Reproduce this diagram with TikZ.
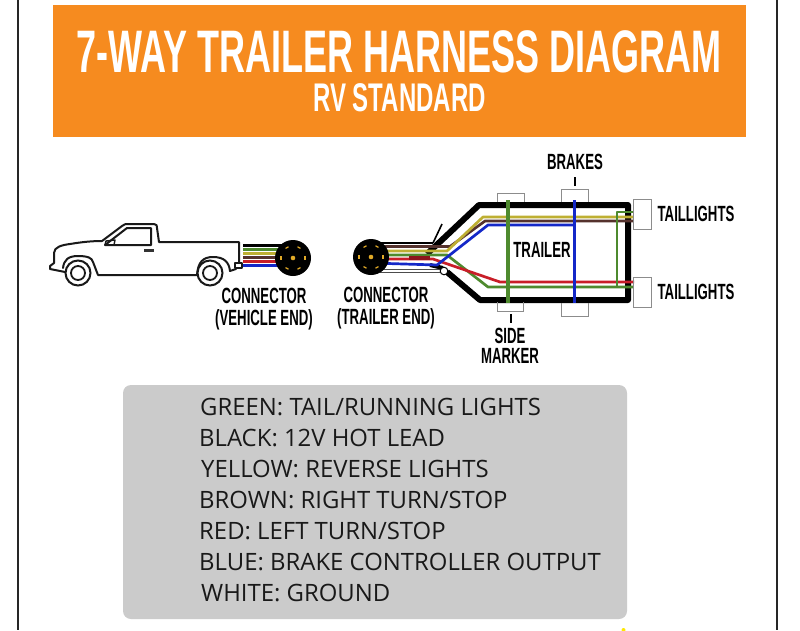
\documentclass[tikz,border=0pt]{standalone}
\usepackage{fontspec}
\usepackage{xcolor}
\usepackage{tikz}
\usetikzlibrary{positioning,backgrounds}
\setmainfont{Open Sans}
\newfontfamily\condfont[FakeStretch=0.6]{Liberation Sans}
\definecolor{banner}{RGB}{246, 139, 31}
\definecolor{panel}{RGB}{203, 203, 203}
\definecolor{wgreen}{RGB}{78, 138, 46}
\definecolor{wyellow}{RGB}{190, 175, 50}
\definecolor{wbrown}{RGB}{85, 50, 45}
\definecolor{wred}{RGB}{200, 30, 40}
\definecolor{wblue}{RGB}{20, 40, 200}
\definecolor{pingold}{RGB}{225, 170, 40}
\tikzstyle{textonly} = [draw=none, fill=none, inner sep=0pt, text centered, font=\condfont\bfseries\fontsize{22}{22}\selectfont]
\tikzstyle{legendline} = [draw=none, fill=none, inner sep=0pt, anchor=base west, text=black!90, font=\fontsize{23.9}{24}\selectfont]
\tikzstyle{plug} = [circle, fill=black, draw=none, inner sep=0pt, minimum size=36pt]
\tikzstyle{pin} = [draw=pingold, line width=1.2pt]
\tikzstyle{wire} = [draw, line width=2.7pt, line join=round]
\tikzstyle{frame} = [draw=black, line width=6pt, line join=round]
\tikzstyle{lamp} = [draw=black!45, line width=0.9pt]
\tikzstyle{truck} = [draw=black!90, line width=2pt, line join=round, line cap=round]

\begin{document}
\begin{tikzpicture}[x=1pt, y=-1pt]
\useasboundingbox (0,0) rectangle (800,630);

% page and banner =============================
\draw[line width=1.6pt, black!85] (18,0) -- (18,630);
\draw[line width=1.6pt, black!85] (777,0) -- (777,630);
\fill[banner] (53,5) rectangle (746,137);
\node[inner sep=0pt, text=white, font=\condfont\bfseries\fontsize{60}{60}\selectfont] (title) at (399,52) {7-WAY TRAILER HARNESS DIAGRAM};
\node[inner sep=0pt, text=white, font=\condfont\bfseries\fontsize{40}{40}\selectfont] (subtitle) at (399.5,97.5) {RV STANDARD};

% plugs
\node[plug] (vplug) at (293,258) {};
\node[plug] (tplug) at (371,257) {};
\foreach \p in {vplug,tplug}{
  \begin{scope}[shift={(\p)}]
    \foreach \a in {0,60,120,180,240,300}
      \path[pin, rotate=\a] (12,-1.7) -- (12,1.7);
    \fill[pingold] (0,0) circle (2.3);
  \end{scope}
}

% truck
\path[truck] (54,263) -- (54,253) .. controls (54,247) and (62,245) .. (70,244)
  .. controls (82,242) and (92,241) .. (102,241) -- (122,226)
  .. controls (124,224) and (126,224) .. (128,224) -- (154,224)
  .. controls (157,224) and (157,226) .. (157,228) -- (159,242) -- (239,242) -- (239,263);
\path[truck] (54,263) -- (50,266) -- (50,269) -- (65,272);
\path[truck] (63,268) .. controls (64,260) and (68,256) .. (78,256)
  .. controls (88,256) and (92,258) .. (93,262) -- (98,275) -- (197,275)
  .. controls (198,262) and (203,257) .. (213,257)
  .. controls (224,257) and (229,262) .. (230,271) -- (236,269);
\path[truck] (105,245) -- (127,228) -- (151,228) -- (151,245) -- cycle;
\path[truck, line width=1.4pt] (105,245) -- (106,241) -- (115,240) -- (114,245);
\fill[black!80] (144,249) rectangle (154,252);
\path[truck, line width=1.2pt] (235,263) rectangle (242,268);
\foreach \c in {210,78}{
  \draw[black!90, line width=2pt, fill=white] (\c,273) circle (12.5);
  \draw[black!90, line width=1.8pt] (\c,273) circle (7);
}

% lamps and brake boxes
\path[lamp] (497,202) -- (497,193) -- (524,193) -- (524,202);
\path[lamp] (497,302) -- (497,311) -- (523,311) -- (523,302);
\path[lamp] (561,202) -- (561,189) -- (588,189) -- (588,202);
\path[lamp] (561,303) -- (561,316) -- (588,316) -- (588,303);
\path[lamp] (651,199) -- (633,199) -- (633,229) -- (651,229) -- cycle;
\path[lamp] (651,277) -- (633,277) -- (633,307) -- (651,307) -- cycle;

% wires behind the plugs
\begin{scope}[on background layer]
\foreach \y/\c in {245/black, 249.5/wgreen, 253.5/wyellow, 257.5/wbrown, 261/wred, 265/wblue}
  \path[wire, draw=\c, line width=3pt] (243,\y) -- (vplug |- 0,\y);
\path[wire, draw=black!30, line width=3.4pt] (245,269.5) -- (vplug |- 0,269.5);
\path[wire, draw=white, line width=2.2pt] (245,269.5) -- (vplug |- 0,269.5);

% trailer frame
\path[frame] (427,254) -- (479,205) -- (628,205) -- (628,300) -- (480,300) -- (447,272);
\path[wire, draw=black!70, line width=1pt] (380,269.5) -- (442,269.5);
\path[wire, draw=black!70, line width=1pt] (380,272.5) -- (442,272.5);
\path[wire, draw=black, line width=4pt] (430,265) -- (443,268);

% trailer wires
\path[wire, draw=black, line width=2pt] (tplug |- 0,243) -- (433,243);
\path[wire, draw=black, line width=1.6pt] (433,243) -- (442,224);
\path[wire, draw=wbrown] (tplug |- 0,246.5) -- (450,246.5) -- (485,221) -- (633,221);
\path[wire, draw=wyellow] (tplug |- 0,251) -- (447,251) -- (483,217) -- (633,217);
\path[wire, draw=wgreen] (tplug |- 0,255) -- (447,255) -- (488,287) -- (633,287);
\path[wire, draw=wred] (tplug |- 0,259) -- (433,259) -- (500,282) -- (634,282);
\path[wire, draw=wred!70!black, line width=3.6pt] (409,258) -- (430,258);
\path[wire, draw=wblue] (tplug |- 0,263) -- (437,265) -- (488,225) -- (574,225);
\path[wire, draw=wgreen] (633,212) -- (617,212) -- (617,286);
\path[wire, draw=wgreen, line width=3.2pt] (508,200) -- (508,303);
\path[wire, draw=wblue, line width=3.2pt] (574.5,200) -- (574.5,303);
\end{scope}
\draw[black, line width=1pt, fill=white] (444,271) circle (3.8);

% labels
\node[textonly] (brakes) at (575,162) {BRAKES};
\node[textonly] (taila) at (696,214) {TAILLIGHTS};
\node[textonly] (tailb) at (696,292) {TAILLIGHTS};
\node[textonly] (trailer) at (542,250) {TRAILER};
\node[textonly] (vehconn) at (264,296) {CONNECTOR};
\node[textonly, below=5pt of vehconn] (vehend) {(VEHICLE END)};
\node[textonly] (trlconn) at (386,295) {CONNECTOR};
\node[textonly, below=5pt of trlconn] (trlend) {(TRAILER END)};
\node[textonly] (side) at (510,336) {SIDE};
\node[textonly, below=4pt of side] (marker) {MARKER};

% ticks
\coordinate (braketick) at (575,186);
\coordinate (sidetick) at (511,314);
\draw[black, line width=1.2pt] (braketick) -- (brakes.south |- 0,177);
\draw[black, line width=1.2pt] (sidetick) -- (sidetick |- 0,323);

% legend
\fill[panel, rounded corners=8pt] (123,385) rectangle (627,619);
\node[legendline] (lgreen) at (200,415) {GREEN: TAIL/RUNNING LIGHTS};
\node[legendline] (lblack) at (199,446) {BLACK: 12V HOT LEAD};
\node[legendline] (lyellow) at (201,477) {YELLOW: REVERSE LIGHTS};
\node[legendline] (lbrown) at (199,508) {BROWN: RIGHT TURN/STOP};
\node[legendline] (lred) at (199,539) {RED: LEFT TURN/STOP};
\node[legendline] (lblue) at (199,570) {BLUE: BRAKE CONTROLLER OUTPUT};
\node[legendline] (lwhite) at (201,601) {WHITE: GROUND};

% speck at the lower edge
\fill[yellow!90!orange] (623.5,630) circle (2);

\end{tikzpicture}
\end{document}
